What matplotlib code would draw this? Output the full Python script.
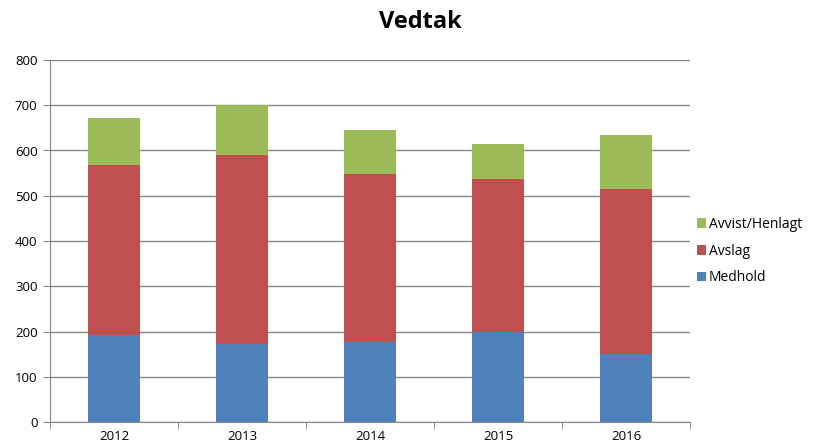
import numpy as np
import matplotlib.pyplot as plt

years = ['2012', '2013', '2014', '2015', '2016']
medhold = [193, 173, 176, 199, 151]
avslag = [374, 416, 372, 338, 364]
avvist = [104, 112, 97, 77, 120]

plt.rcParams['font.family'] = ['Open Sans', 'DejaVu Sans']

fig = plt.figure(figsize=(8.27, 4.48), dpi=100)
ax = fig.add_axes([50/827, 26/448, 640/827, 362/448])

x = np.arange(len(years))
b1 = np.array(medhold)
b2 = b1 + np.array(avslag)
ax.bar(x, medhold, 0.4, color='#4F81BD', label='Medhold', zorder=2)
ax.bar(x, avslag, 0.4, bottom=b1, color='#C0504D', label='Avslag', zorder=2)
ax.bar(x, avvist, 0.4, bottom=b2, color='#9BBB59', label='Avvist/Henlagt', zorder=2)

ax.set_xlim(-0.5, 4.5)
ax.set_ylim(0, 800)
ax.set_yticks(range(0, 801, 100))
ax.set_xticks(x)
ax.set_xticklabels(years)
ax.set_xticks(np.arange(-0.5, 5, 1), minor=True)
ax.tick_params(axis='x', which='major', length=0, pad=6, labelsize=9.5)
ax.tick_params(axis='x', which='minor', length=5, color='#868686', direction='out')
ax.tick_params(axis='y', length=5, color='#868686', labelsize=9.5, pad=4)
ax.grid(axis='y', color='#868686', linewidth=1, zorder=0)

for s in ['top', 'right']:
    ax.spines[s].set_visible(False)
ax.spines['left'].set_color('#868686')
ax.spines['bottom'].set_color('#868686')

fig.text(0.508, 0.95, 'Vedtak', fontsize=17, fontweight='bold', ha='center', va='center')

h, l = ax.get_legend_handles_labels()
ax.legend(h[::-1], l[::-1], loc='center left', bbox_to_anchor=(0.995, 0.472),
          frameon=False, fontsize=10, handlelength=0.7, handleheight=0.7,
          handletextpad=0.2, labelspacing=0.85, borderaxespad=0.3)

plt.savefig('out.png')
